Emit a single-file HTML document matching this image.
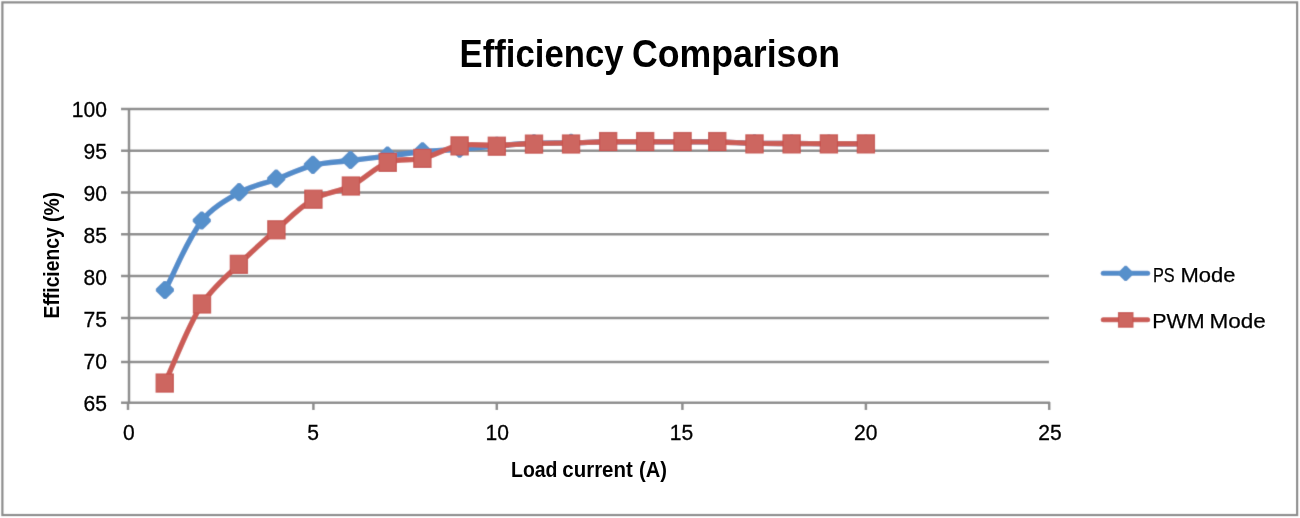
<!DOCTYPE html>
<html><head><meta charset="utf-8"><style>
html,body{margin:0;padding:0;background:#fff;width:1300px;height:518px;overflow:hidden}
svg{display:block}
text{filter:grayscale(1);font-family:"Liberation Sans",sans-serif;fill:#000}
.ax{font-size:22.2px;stroke:#000;stroke-width:0.3px}
.leg{font-size:20.6px;stroke:#000;stroke-width:0.25px}
.axt{font-size:21.8px;font-weight:bold}
.title{font-size:38px;font-weight:bold}
</style></head><body>
<svg width="1300" height="518" viewBox="0 0 1300 518">
<defs><filter id="sm" x="0" y="0" width="1300" height="518" filterUnits="userSpaceOnUse"><feConvolveMatrix order="3" kernelMatrix="0.0121 0.0858 0.0121 0.0858 0.6084 0.0858 0.0121 0.0858 0.0121" edgeMode="none" preserveAlpha="false"/></filter></defs>
<g filter="url(#sm)">
<rect x="2.4" y="2.4" width="1294.7" height="512.6" fill="#fff" stroke="#8c8c8c" stroke-width="2.2"/>
<line x1="121" y1="108.90" x2="1049" y2="108.90" stroke="#8c8c8c" stroke-width="2.5"/>
<line x1="121" y1="150.80" x2="1049" y2="150.80" stroke="#8c8c8c" stroke-width="2.5"/>
<line x1="121" y1="192.55" x2="1049" y2="192.55" stroke="#8c8c8c" stroke-width="2.5"/>
<line x1="121" y1="234.20" x2="1049" y2="234.20" stroke="#8c8c8c" stroke-width="2.5"/>
<line x1="121" y1="276.00" x2="1049" y2="276.00" stroke="#8c8c8c" stroke-width="2.5"/>
<line x1="121" y1="317.90" x2="1049" y2="317.90" stroke="#8c8c8c" stroke-width="2.5"/>
<line x1="121" y1="361.95" x2="1049" y2="361.95" stroke="#8c8c8c" stroke-width="2.5"/>
<line x1="121" y1="402.85" x2="1050" y2="402.85" stroke="#8c8c8c" stroke-width="2.5"/>
<line x1="129" y1="108" x2="129" y2="403.5" stroke="#8c8c8c" stroke-width="2.5"/>
<line x1="128.00" y1="402" x2="128.00" y2="410" stroke="#8c8c8c" stroke-width="2.5"/>
<line x1="313.40" y1="402" x2="313.40" y2="410" stroke="#8c8c8c" stroke-width="2.5"/>
<line x1="496.80" y1="402" x2="496.80" y2="410" stroke="#8c8c8c" stroke-width="2.5"/>
<line x1="682.40" y1="402" x2="682.40" y2="410" stroke="#8c8c8c" stroke-width="2.5"/>
<line x1="865.90" y1="402" x2="865.90" y2="410" stroke="#8c8c8c" stroke-width="2.5"/>
<line x1="1049.20" y1="402" x2="1049.20" y2="410" stroke="#8c8c8c" stroke-width="2.5"/>
<path d="M164.90,290.50 C177.20,267.33 185.95,241.90 201.80,221.00 C211.23,208.57 225.49,200.34 239.10,192.70 C250.57,186.25 263.86,183.78 276.20,179.20 C288.46,174.65 300.21,168.49 312.90,165.30 C325.15,162.22 337.96,162.05 350.50,160.50 C362.81,158.98 375.14,157.59 387.45,156.10 C399.14,154.69 410.78,152.92 422.50,151.80 C434.84,150.62 447.24,150.20 459.60,149.20 C472.03,148.20 484.42,146.79 496.85,145.80 C509.22,144.82 521.60,143.78 534.00,143.30 C546.34,142.82 558.70,143.15 571.05,142.90 C583.42,142.65 595.78,141.98 608.15,141.80 C620.48,141.62 632.82,141.80 645.15,141.80 C657.62,141.80 670.08,141.78 682.55,141.80 C694.12,141.82 705.69,141.66 717.25,141.90 C729.67,142.16 742.08,143.03 754.50,143.30 C766.88,143.57 779.27,143.43 791.65,143.50 C804.07,143.57 816.48,143.63 828.90,143.70 C841.23,143.77 853.57,143.83 865.90,143.90" fill="none" stroke="#528cca" stroke-width="5.4" stroke-linejoin="round" stroke-linecap="round"/>
<path d="M163.70,280.90 L166.10,280.90 L174.00,288.80 L174.00,291.20 L166.10,299.10 L163.70,299.10 L155.80,291.20 L155.80,288.80 Z" fill="#5690cb"/>
<path d="M200.60,211.40 L203.00,211.40 L210.90,219.30 L210.90,221.70 L203.00,229.60 L200.60,229.60 L192.70,221.70 L192.70,219.30 Z" fill="#5690cb"/>
<path d="M237.90,183.10 L240.30,183.10 L248.20,191.00 L248.20,193.40 L240.30,201.30 L237.90,201.30 L230.00,193.40 L230.00,191.00 Z" fill="#5690cb"/>
<path d="M275.00,169.60 L277.40,169.60 L285.30,177.50 L285.30,179.90 L277.40,187.80 L275.00,187.80 L267.10,179.90 L267.10,177.50 Z" fill="#5690cb"/>
<path d="M311.70,155.70 L314.10,155.70 L322.00,163.60 L322.00,166.00 L314.10,173.90 L311.70,173.90 L303.80,166.00 L303.80,163.60 Z" fill="#5690cb"/>
<path d="M349.30,150.90 L351.70,150.90 L359.60,158.80 L359.60,161.20 L351.70,169.10 L349.30,169.10 L341.40,161.20 L341.40,158.80 Z" fill="#5690cb"/>
<path d="M386.25,146.50 L388.65,146.50 L396.55,154.40 L396.55,156.80 L388.65,164.70 L386.25,164.70 L378.35,156.80 L378.35,154.40 Z" fill="#5690cb"/>
<path d="M421.30,142.20 L423.70,142.20 L431.60,150.10 L431.60,152.50 L423.70,160.40 L421.30,160.40 L413.40,152.50 L413.40,150.10 Z" fill="#5690cb"/>
<path d="M458.40,139.60 L460.80,139.60 L468.70,147.50 L468.70,149.90 L460.80,157.80 L458.40,157.80 L450.50,149.90 L450.50,147.50 Z" fill="#5690cb"/>
<path d="M495.65,136.70 L498.05,136.70 L505.95,144.60 L505.95,147.00 L498.05,154.90 L495.65,154.90 L487.75,147.00 L487.75,144.60 Z" fill="#5690cb"/>
<path d="M532.80,134.20 L535.20,134.20 L543.10,142.10 L543.10,144.50 L535.20,152.40 L532.80,152.40 L524.90,144.50 L524.90,142.10 Z" fill="#5690cb"/>
<path d="M569.85,133.80 L572.25,133.80 L580.15,141.70 L580.15,144.10 L572.25,152.00 L569.85,152.00 L561.95,144.10 L561.95,141.70 Z" fill="#5690cb"/>
<path d="M606.95,132.70 L609.35,132.70 L617.25,140.60 L617.25,143.00 L609.35,150.90 L606.95,150.90 L599.05,143.00 L599.05,140.60 Z" fill="#5690cb"/>
<path d="M643.95,132.70 L646.35,132.70 L654.25,140.60 L654.25,143.00 L646.35,150.90 L643.95,150.90 L636.05,143.00 L636.05,140.60 Z" fill="#5690cb"/>
<path d="M681.35,132.70 L683.75,132.70 L691.65,140.60 L691.65,143.00 L683.75,150.90 L681.35,150.90 L673.45,143.00 L673.45,140.60 Z" fill="#5690cb"/>
<path d="M716.05,132.80 L718.45,132.80 L726.35,140.70 L726.35,143.10 L718.45,151.00 L716.05,151.00 L708.15,143.10 L708.15,140.70 Z" fill="#5690cb"/>
<path d="M753.30,134.20 L755.70,134.20 L763.60,142.10 L763.60,144.50 L755.70,152.40 L753.30,152.40 L745.40,144.50 L745.40,142.10 Z" fill="#5690cb"/>
<path d="M790.45,134.40 L792.85,134.40 L800.75,142.30 L800.75,144.70 L792.85,152.60 L790.45,152.60 L782.55,144.70 L782.55,142.30 Z" fill="#5690cb"/>
<path d="M827.70,134.60 L830.10,134.60 L838.00,142.50 L838.00,144.90 L830.10,152.80 L827.70,152.80 L819.80,144.90 L819.80,142.50 Z" fill="#5690cb"/>
<path d="M864.70,134.80 L867.10,134.80 L875.00,142.70 L875.00,145.10 L867.10,153.00 L864.70,153.00 L856.80,145.10 L856.80,142.70 Z" fill="#5690cb"/>
<path d="M164.75,383.05 C177.17,356.70 186.57,328.71 202.00,304.00 C211.57,288.68 226.11,277.06 238.90,264.30 C250.93,252.31 263.61,240.98 276.40,229.80 C288.45,219.27 299.60,207.31 313.40,199.20 C324.82,192.48 339.02,191.88 350.90,186.00 C363.97,179.53 374.14,167.65 387.75,162.40 C398.60,158.21 411.09,161.08 422.40,158.40 C435.18,155.38 446.66,147.66 459.60,145.40 C471.83,143.26 484.44,145.72 496.85,145.40 C509.25,145.08 521.61,143.92 534.00,143.50 C546.34,143.08 558.70,143.18 571.05,142.90 C583.42,142.62 595.78,141.98 608.15,141.80 C620.48,141.62 632.82,141.78 645.15,141.80 C657.62,141.82 670.08,141.87 682.55,141.90 C694.12,141.93 705.69,141.77 717.25,142.00 C729.67,142.24 742.08,143.05 754.50,143.30 C766.88,143.55 779.27,143.43 791.65,143.50 C804.07,143.57 816.48,143.63 828.90,143.70 C841.23,143.77 853.57,143.83 865.90,143.90" fill="none" stroke="#cb5c56" stroke-width="5.4" stroke-linejoin="round" stroke-linecap="round"/>
<rect x="156.15" y="374.05" width="17.2" height="18.0" fill="#cd6660" stroke="#c8544f" stroke-width="1.2"/>
<rect x="193.40" y="295.00" width="17.2" height="18.0" fill="#cd6660" stroke="#c8544f" stroke-width="1.2"/>
<rect x="230.30" y="255.30" width="17.2" height="18.0" fill="#cd6660" stroke="#c8544f" stroke-width="1.2"/>
<rect x="267.80" y="220.80" width="17.2" height="18.0" fill="#cd6660" stroke="#c8544f" stroke-width="1.2"/>
<rect x="304.80" y="190.20" width="17.2" height="18.0" fill="#cd6660" stroke="#c8544f" stroke-width="1.2"/>
<rect x="342.30" y="177.00" width="17.2" height="18.0" fill="#cd6660" stroke="#c8544f" stroke-width="1.2"/>
<rect x="379.15" y="153.40" width="17.2" height="18.0" fill="#cd6660" stroke="#c8544f" stroke-width="1.2"/>
<rect x="413.80" y="149.40" width="17.2" height="18.0" fill="#cd6660" stroke="#c8544f" stroke-width="1.2"/>
<rect x="451.00" y="136.90" width="17.2" height="18.0" fill="#cd6660" stroke="#c8544f" stroke-width="1.2"/>
<rect x="488.25" y="137.20" width="17.2" height="18.0" fill="#cd6660" stroke="#c8544f" stroke-width="1.2"/>
<rect x="525.40" y="135.10" width="17.2" height="18.0" fill="#cd6660" stroke="#c8544f" stroke-width="1.2"/>
<rect x="562.45" y="135.00" width="17.2" height="18.0" fill="#cd6660" stroke="#c8544f" stroke-width="1.2"/>
<rect x="599.55" y="132.50" width="17.2" height="18.0" fill="#cd6660" stroke="#c8544f" stroke-width="1.2"/>
<rect x="636.55" y="132.50" width="17.2" height="18.0" fill="#cd6660" stroke="#c8544f" stroke-width="1.2"/>
<rect x="673.95" y="132.50" width="17.2" height="18.0" fill="#cd6660" stroke="#c8544f" stroke-width="1.2"/>
<rect x="708.65" y="132.50" width="17.2" height="18.0" fill="#cd6660" stroke="#c8544f" stroke-width="1.2"/>
<rect x="745.90" y="134.90" width="17.2" height="18.0" fill="#cd6660" stroke="#c8544f" stroke-width="1.2"/>
<rect x="783.05" y="134.90" width="17.2" height="18.0" fill="#cd6660" stroke="#c8544f" stroke-width="1.2"/>
<rect x="820.30" y="134.90" width="17.2" height="18.0" fill="#cd6660" stroke="#c8544f" stroke-width="1.2"/>
<rect x="857.30" y="134.90" width="17.2" height="18.0" fill="#cd6660" stroke="#c8544f" stroke-width="1.2"/>
<line x1="1103.2" y1="273.3" x2="1147.7" y2="273.3" stroke="#528cca" stroke-width="5" stroke-linecap="round"/>
<path d="M1124.70,265.80 L1126.70,265.80 L1133.30,272.40 L1133.30,274.40 L1126.70,281.00 L1124.70,281.00 L1118.10,274.40 L1118.10,272.40 Z" fill="#5690cb"/>
<line x1="1103.2" y1="319.8" x2="1147.7" y2="319.8" stroke="#cb5c56" stroke-width="5" stroke-linecap="round"/>
<rect x="1118.5" y="312.7" width="14.4" height="14.4" fill="#cd6660" stroke="#c8544f" stroke-width="1.2"/>
</g>
<g class="txt">
<text transform="translate(106.90,117.20) scale(0.950,1)" text-anchor="end" class="ax">100</text>
<text transform="translate(106.90,159.24) scale(0.950,1)" text-anchor="end" class="ax">95</text>
<text transform="translate(106.90,201.28) scale(0.950,1)" text-anchor="end" class="ax">90</text>
<text transform="translate(106.90,243.32) scale(0.950,1)" text-anchor="end" class="ax">85</text>
<text transform="translate(106.90,285.36) scale(0.950,1)" text-anchor="end" class="ax">80</text>
<text transform="translate(106.90,327.40) scale(0.950,1)" text-anchor="end" class="ax">75</text>
<text transform="translate(106.90,369.44) scale(0.950,1)" text-anchor="end" class="ax">70</text>
<text transform="translate(106.90,411.48) scale(0.950,1)" text-anchor="end" class="ax">65</text>
<text transform="translate(128.85,440.1) scale(0.950,1)" text-anchor="middle" class="ax">0</text>
<text transform="translate(313.08,440.1) scale(0.950,1)" text-anchor="middle" class="ax">5</text>
<text transform="translate(497.31,440.1) scale(0.950,1)" text-anchor="middle" class="ax">10</text>
<text transform="translate(681.54,440.1) scale(0.950,1)" text-anchor="middle" class="ax">15</text>
<text transform="translate(865.77,440.1) scale(0.950,1)" text-anchor="middle" class="ax">20</text>
<text transform="translate(1050.00,440.1) scale(0.950,1)" text-anchor="middle" class="ax">25</text>
<text x="459.60" y="67.0" class="title" textLength="164.00" lengthAdjust="spacingAndGlyphs">Efficiency</text>
<text x="632.00" y="67.0" class="title" textLength="208.00" lengthAdjust="spacingAndGlyphs">Comparison</text>
<text x="511.00" y="476.6" class="axt" textLength="46.50" lengthAdjust="spacingAndGlyphs">Load</text>
<text x="562.30" y="476.6" class="axt" textLength="70.50" lengthAdjust="spacingAndGlyphs">current</text>
<text x="639.00" y="476.6" class="axt" textLength="28.00" lengthAdjust="spacingAndGlyphs">(A)</text>
<text transform="translate(59.4,318.40) rotate(-90)" x="0" y="0" class="axt" textLength="91.00" lengthAdjust="spacingAndGlyphs">Efficiency</text>
<text transform="translate(59.4,222.00) rotate(-90)" x="0" y="0" class="axt" textLength="30.00" lengthAdjust="spacingAndGlyphs">(%)</text>
<text x="1153.00" y="282.10" class="leg" textLength="21.70" lengthAdjust="spacingAndGlyphs">PS</text>
<text x="1180.50" y="282.10" class="leg" textLength="55.00" lengthAdjust="spacingAndGlyphs">Mode</text>
<text x="1152.20" y="328.20" class="leg" textLength="52.30" lengthAdjust="spacingAndGlyphs">PWM</text>
<text x="1209.40" y="328.20" class="leg" textLength="56.30" lengthAdjust="spacingAndGlyphs">Mode</text>
</g>
</svg>
</body></html>
